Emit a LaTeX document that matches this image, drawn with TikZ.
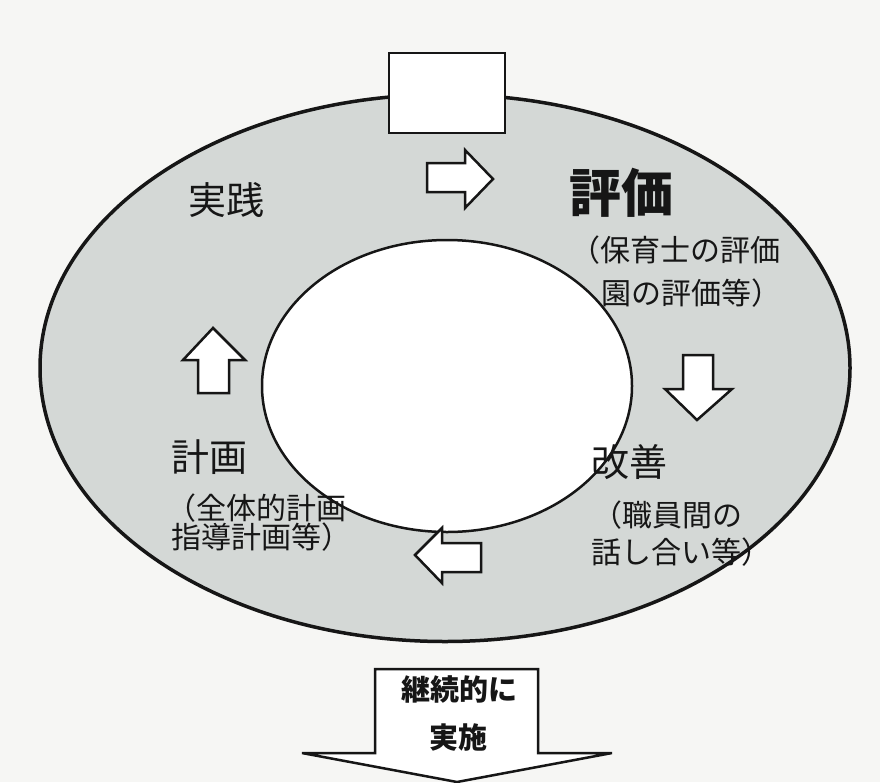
\documentclass[tikz,border=0pt]{standalone}
\usepackage{fontspec}
\usetikzlibrary{shapes.geometric}
\newfontfamily\jp{Noto Sans CJK JP}
\definecolor{paper}{RGB}{246,246,244}
\definecolor{ringgray}{RGB}{212,216,214}
\definecolor{ink}{RGB}{22,22,22}
\begin{document}
\begin{tikzpicture}[x=1pt,y=-1pt,
  lbl/.style={inner sep=0pt, anchor=west, text=ink},
  big/.style={lbl, font=\jp\fontsize{38}{38}\selectfont},
  small/.style={lbl, font=\jp\fontsize{30}{30}\selectfont},
  hollowarrow/.style={draw=ink, line width=2.5pt, fill=white, line join=miter}]
\useasboundingbox (0,0) rectangle (880,782);
\fill[paper] (0,0) rectangle (880,782);
% ring
\node[draw=ink, line width=3.5pt, fill=ringgray, ellipse, minimum width=810pt, minimum height=547pt, inner sep=0pt] (outer) at (445,368) {};
\node[draw=ink, line width=2.5pt, fill=white, ellipse, minimum width=370pt, minimum height=292pt, inner sep=0pt] (inner) at (447,386) {};
% top box
\node[draw=ink, line width=2.2pt, fill=white, minimum width=116pt, minimum height=80pt, inner sep=0pt] (topbox) at (447,93) {};
% small arrows
\draw[hollowarrow] (427,163) -- (465,163) -- (465,150) -- (493,179) -- (465,208) -- (465,192) -- (427,192) -- cycle;
\draw[hollowarrow] (683,355) -- (713,355) -- (713,389) -- (732,389) -- (697,420) -- (665,389) -- (683,389) -- cycle;
\draw[hollowarrow] (481,543) -- (442,543) -- (442,528) -- (415,555) -- (442,583) -- (442,572) -- (481,572) -- cycle;
\draw[hollowarrow] (198,393) -- (198,360) -- (183,360) -- (213,328) -- (245,360) -- (229,360) -- (229,393) -- cycle;
% bottom big arrow
\draw[hollowarrow] (375,669) -- (538,669) -- (538,753) -- (612,753) -- (457,782) -- (302,753) -- (375,753) -- cycle;
% labels
\node[big] (jissen) at (188,200) {実践};
\node[lbl, font=\jp\bfseries\fontsize{52}{52}\selectfont] (hyoka) at (569,193) {評価};
\node[small] (hyoka1) at (570,250) {（保育士の評価};
\node[small] (hyoka2) at (601,293) {園の評価等）};
\node[big] (keikaku) at (171,457) {計画};
\node[small] (keikaku1) at (166,508) {（全体的計画};
\node[small] (keikaku2) at (171,537) {指導計画等）};
\node[big] (kaizen) at (591,462) {改善};
\node[small] (kaizen1) at (592,515) {（職員間の};
\node[small] (kaizen2) at (591,552) {話し合い等）};
\node[inner sep=0pt, text=ink, font=\jp\bfseries\fontsize{29}{29}\selectfont] (keizoku) at (459,689) {継続的に};
\node[inner sep=0pt, text=ink, font=\jp\bfseries\fontsize{29}{29}\selectfont] (jisshi) at (458,737) {実施};
\end{tikzpicture}
\end{document}
